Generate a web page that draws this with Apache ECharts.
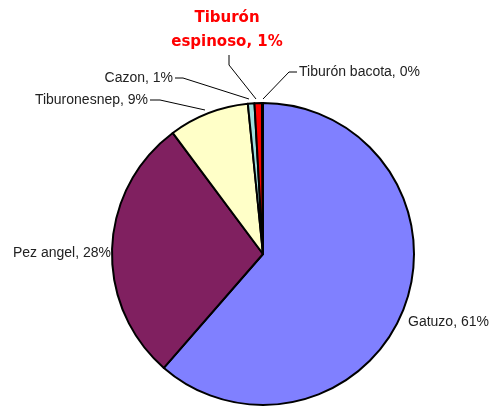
<!DOCTYPE html>
<html>
<head>
<meta charset="utf-8">
<script src="https://cdn.jsdelivr.net/npm/echarts@6/dist/echarts.min.js"></script>
<style>
  html, body { margin: 0; padding: 0; background: #fff; }
  #chart { width: 490px; height: 412px; }
</style>
</head>
<body>
<div id="chart"></div>
<script>
// datos de captura (porcentaje)
var especies = ["Gatuzo", "Pez angel", "Tiburonesnep", "Cazon", "Tiburón espinoso", "Tiburón bacota"];
var valores = [61.4, 28.4, 8.6, 0.7, 0.8, 0.1];
var colores = ["#8080FF", "#802060", "#FFFFC8", "#A0E0E0", "#FF0000", "#3030A0"];

// posiciones de etiquetas y guias (estilo)
var etiquetas = [
  { x: 408, y: 322, align: "left", line: null },
  { x: 111, y: 253, align: "right", line: null },
  { x: 148, y: 100, align: "right", line: [[205, 110], [160, 100], [150, 100]] },
  { x: 173, y: 78, align: "right", line: [[249, 99], [183, 78], [175, 78]] },
  { x: 227, y: 6, align: "center", line: [[256, 99], [229, 65], [229, 55]] },
  { x: 299, y: 72, align: "left", line: [[263, 99], [289, 72], [297, 72]] }
];

var chart = echarts.init(document.getElementById("chart"));

var datos = [];
for (var i = 0; i < especies.length; i++) {
  var item = { name: especies[i], value: valores[i], itemStyle: { color: colores[i] } };
  if (i == 4) {
    item.label = {
      color: "#FF0000",
      fontWeight: "bold",
      fontFamily: "DejaVu Sans",
      fontSize: 15,
      lineHeight: 24,
      align: "center",
      formatter: function (p) {
        return "Tiburón\nespinoso, " + Math.round(p.percent) + "%";
      }
    };
  }
  datos.push(item);
}

var option = {
  animation: false,
  backgroundColor: "#fff",
  series: [{
    type: "pie",
    center: [263, 254],
    radius: 151,
    startAngle: 90,
    clockwise: true,
    avoidLabelOverlap: false,
    data: datos,
    itemStyle: { borderColor: "#000", borderWidth: 2 },
    label: {
      show: true,
      position: "outside",
      color: "#222",
      fontFamily: "Liberation Sans",
      fontSize: 14,
      formatter: function (p) {
        return p.name + ", " + Math.round(p.percent) + "%";
      }
    },
    labelLine: { show: true, lineStyle: { color: "#000", width: 1 } },
    labelLayout: function (params) {
      var e = etiquetas[params.dataIndex];
      var res = {
        x: e.x,
        y: e.y,
        align: e.align,
        verticalAlign: params.dataIndex == 4 ? "top" : "middle"
      };
      if (e.line) {
        res.labelLinePoints = e.line;
      } else {
        res.labelLinePoints = [[0, 0], [0, 0], [0, 0]];
      }
      return res;
    }
  }]
};

chart.setOption(option);
</script>
</body>
</html>
